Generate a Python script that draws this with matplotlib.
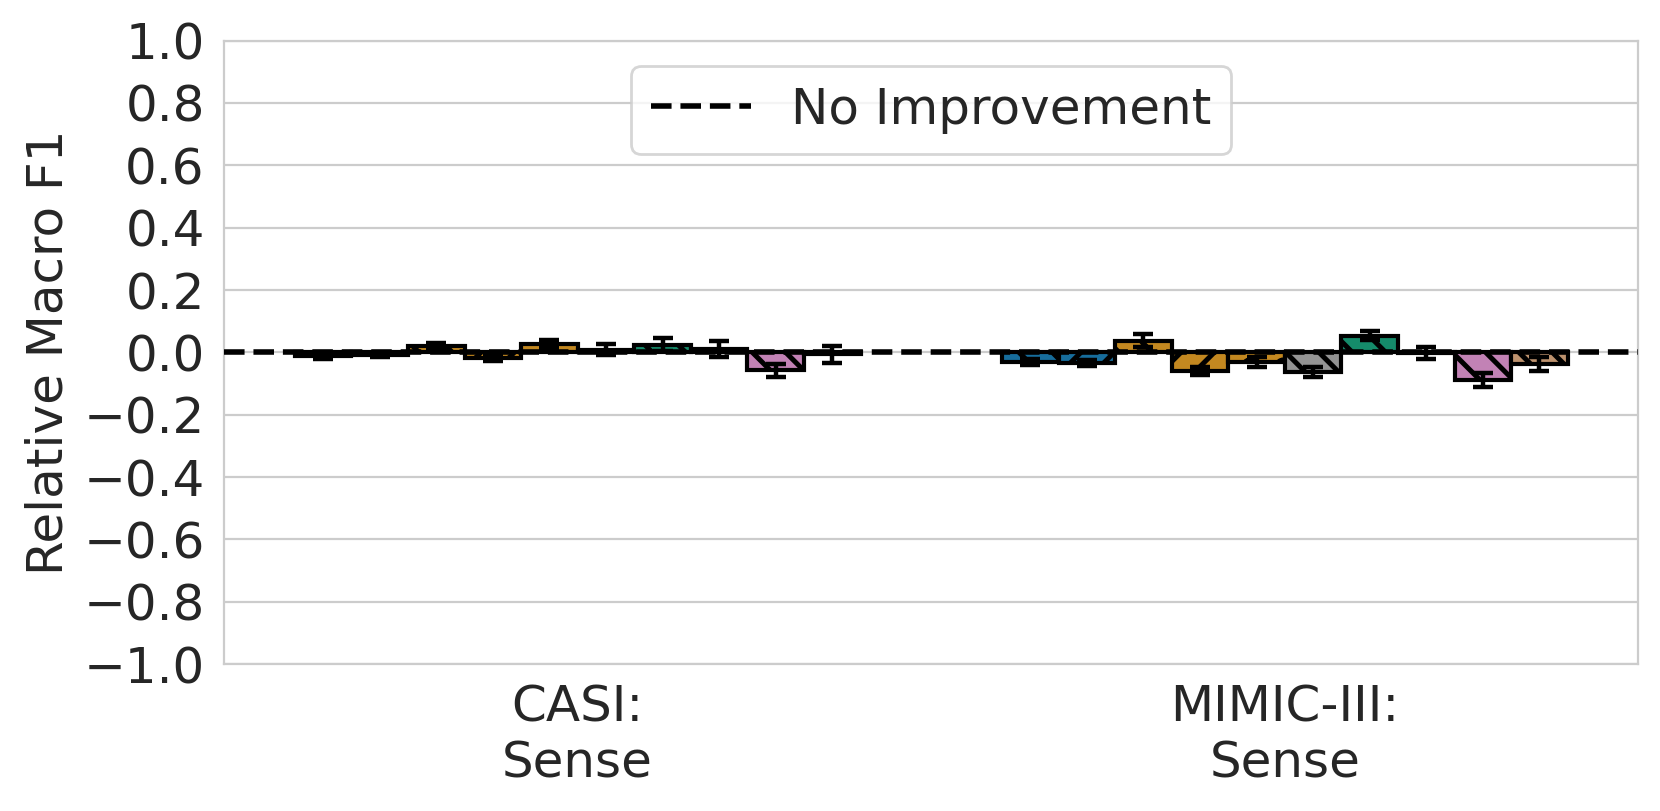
"""
Relative macro F1 per model on the CASI and MIMIC-III sense tasks.
"""

import numpy as np
import matplotlib
matplotlib.use("Agg")
import matplotlib.pyplot as plt
import seaborn as sns


DATASETS = ["CASI:\nSense", "MIMIC-III:\nSense"]
MODELS = ["m0", "m1", "m2", "m3", "m4", "m5", "m6", "m7", "m8", "m9"]

CASI_VALUES = [-0.012, -0.010, 0.020, -0.017, 0.028, 0.008, 0.025, 0.010, -0.058, -0.006]
CASI_ERRORS = [0.008, 0.006, 0.010, 0.012, 0.013, 0.018, 0.022, 0.025, 0.022, 0.028]
MIMIC_VALUES = [-0.032, -0.034, 0.038, -0.060, -0.030, -0.064, 0.054, -0.002, -0.088, -0.038]
MIMIC_ERRORS = [0.010, 0.010, 0.020, 0.014, 0.016, 0.016, 0.015, 0.018, 0.022, 0.022]

BAR_COLORS = ["#0173b2", "#0173b2", "#de8f05", "#de8f05", "#de8f05",
              "#949494", "#029e73", "#d55e00", "#cc78bc", "#ca9161"]
BAR_HATCHES = ["\\\\", "//", "\\\\", "//", "o", "\\\\", "\\\\", "", "\\\\", "\\\\"]


def main():
    sns.set_style("whitegrid")
    plt.rcParams["font.family"] = ["DejaVu Sans"]
    plt.rcParams["hatch.linewidth"] = 1.8

    values = np.array([CASI_VALUES, MIMIC_VALUES])
    errors = np.array([CASI_ERRORS, MIMIC_ERRORS])
    n_models = len(MODELS)
    width = 0.8 / n_models
    x = np.arange(len(DATASETS))

    fig, ax = plt.subplots(figsize=(8.3, 4.055), dpi=200)
    fig.subplots_adjust(left=0.135, right=0.987, top=0.95, bottom=0.181)

    for i in range(n_models):
        pos = x + (i - (n_models - 1) / 2) * width
        ax.bar(pos, values[:, i], width=width,
               color=sns.desaturate(BAR_COLORS[i], 0.75),
               edgecolor="black", linewidth=1.5, hatch=BAR_HATCHES[i], zorder=2)
        ax.errorbar(pos, values[:, i], yerr=errors[:, i], fmt="none",
                    ecolor="black", elinewidth=1.6, capsize=3.6, capthick=1.6, zorder=3)

    ax.axhline(0, color="black", linestyle="--", linewidth=2.0, zorder=4,
               label="No Improvement")

    ax.set_xlim(-0.5, 1.5)
    ax.set_ylim(-1.0, 1.0)
    ax.set_yticks(np.arange(-1.0, 1.01, 0.2))
    ax.set_xticks(x)
    ax.set_xticklabels(DATASETS, fontsize=18)
    ax.tick_params(axis="y", labelsize=18)
    ax.set_ylabel("Relative Macro F1", fontsize=18)
    ax.xaxis.grid(False)
    ax.set_axisbelow(True)
    ax.legend(loc="upper center", fontsize=18)

    fig.savefig("out.png", dpi=200)


if __name__ == "__main__":
    main()
